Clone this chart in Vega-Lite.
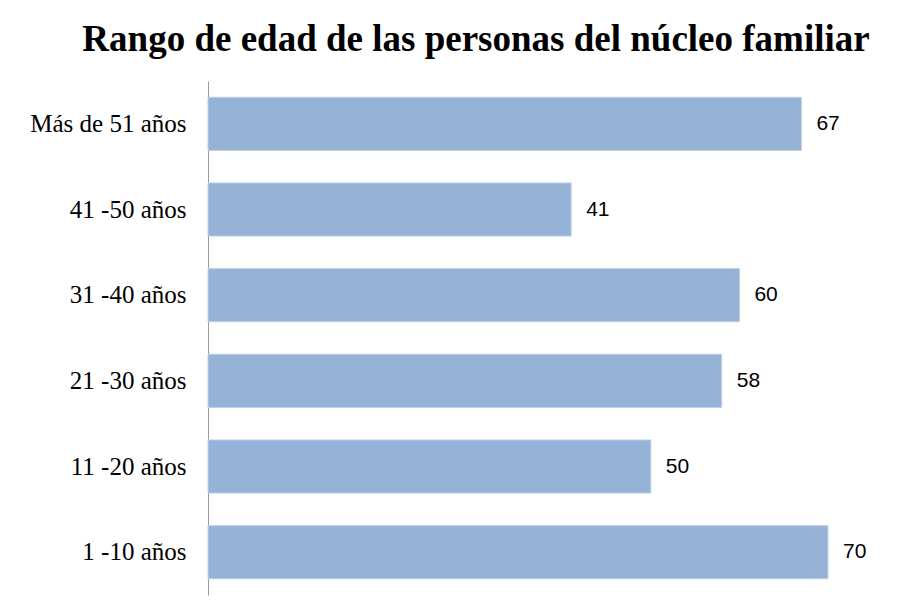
{
  "$schema": "https://vega.github.io/schema/vega-lite/v6.json",
  "width": 620,
  "height": 514,
  "autosize": {"type": "none"},
  "padding": {"left": 208, "top": 81, "right": 80, "bottom": 10},
  "background": "white",
  "title": {
    "text": "Rango de edad de las personas del núcleo familiar",
    "font": "Liberation Serif",
    "fontSize": 37,
    "fontWeight": "bold",
    "color": "black",
    "anchor": "middle",
    "dx": -42,
    "dy": 39,
    "offset": 32,
    "baseline": "alphabetic"
  },
  "config": {"view": {"stroke": null}},
  "data": {
    "values": [
      {"rango": "Más de 51 años", "personas": 67},
      {"rango": "41 -50 años", "personas": 41},
      {"rango": "31 -40 años", "personas": 60},
      {"rango": "21 -30 años", "personas": 58},
      {"rango": "11 -20 años", "personas": 50},
      {"rango": "1 -10 años", "personas": 70}
    ]
  },
  "encoding": {
    "y": {
      "field": "rango",
      "type": "nominal",
      "sort": ["Más de 51 años", "41 -50 años", "31 -40 años", "21 -30 años", "11 -20 años", "1 -10 años"],
      "scale": {"paddingInner": 0.38, "paddingOuter": 0.19},
      "axis": {
        "title": null,
        "ticks": false,
        "domainColor": "#9a9a9a",
        "domainWidth": 1,
        "labelFont": "Liberation Serif",
        "labelFontSize": 25,
        "labelColor": "black",
        "labelPadding": 22,
        "labelLimit": 300
      }
    },
    "x": {
      "field": "personas",
      "type": "quantitative",
      "scale": {"domain": [0, 70]},
      "axis": null
    }
  },
  "layer": [
    {"mark": {"type": "bar", "color": "#95B3D7", "stroke": "#bcd0e8", "strokeWidth": 1}},
    {
      "mark": {"type": "text", "align": "left", "baseline": "middle", "dx": 15, "font": "Liberation Sans", "fontSize": 21, "color": "black"},
      "encoding": {"text": {"field": "personas", "type": "quantitative"}}
    }
  ]
}
